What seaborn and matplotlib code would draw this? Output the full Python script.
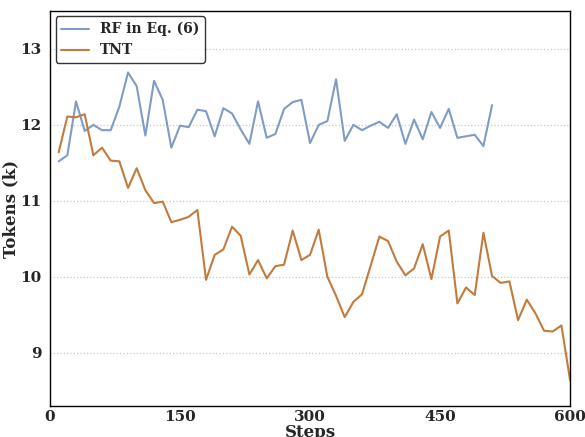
import matplotlib
matplotlib.use("Agg")
import matplotlib.pyplot as plt
import numpy as np
import pandas as pd
import seaborn as sns

rf_steps = list(range(10, 520, 10))
rf_tokens = [
    11.52, 11.60, 12.31, 11.92, 12.00, 11.93, 11.93, 12.24, 12.69, 12.51,
    11.86, 12.58, 12.33, 11.70, 11.99, 11.97, 12.20, 12.18, 11.85, 12.22,
    12.15, 11.94, 11.75, 12.31, 11.83, 11.88, 12.21, 12.30, 12.33, 11.76,
    12.00, 12.05, 12.60, 11.79, 12.00, 11.93, 11.99, 12.04, 11.96, 12.14,
    11.75, 12.07, 11.81, 12.17, 11.96, 12.21, 11.83, 11.85, 11.87, 11.72,
    12.26,
]
tnt_steps = list(range(10, 610, 10))
tnt_tokens = [
    11.64, 12.11, 12.10, 12.14, 11.60, 11.70, 11.53, 11.52, 11.17, 11.43,
    11.14, 10.97, 10.99, 10.72, 10.75, 10.79, 10.88, 9.96, 10.29, 10.36,
    10.66, 10.54, 10.03, 10.22, 9.98, 10.14, 10.16, 10.61, 10.22, 10.29,
    10.62, 10.00, 9.75, 9.47, 9.67, 9.77, 10.15, 10.53, 10.47, 10.20,
    10.02, 10.11, 10.43, 9.97, 10.53, 10.61, 9.65, 9.86, 9.76, 10.58,
    10.01, 9.92, 9.94, 9.43, 9.70, 9.52, 9.29, 9.28, 9.36, 8.64,
]
series_names = ["RF in Eq. (6)", "TNT"]
colors = ["#809bc6", "#c27b3d"]

df = pd.concat([
    pd.DataFrame({"Steps": rf_steps, "Tokens": rf_tokens, "method": series_names[0]}),
    pd.DataFrame({"Steps": tnt_steps, "Tokens": tnt_tokens, "method": series_names[1]}),
])

sns.set_theme(style="white")
plt.rcParams["font.family"] = ["DejaVu Serif"]
plt.rcParams["font.weight"] = "bold"

fig = plt.figure(figsize=(5.85, 4.37), dpi=100)
ax = fig.add_axes([0.0855, 0.071, 0.889, 0.904])
sns.lineplot(data=df, x="Steps", y="Tokens", hue="method",
             palette=dict(zip(series_names, colors)), lw=1.5, ax=ax)

ax.set_xlim(0, 600)
ax.set_ylim(8.3, 13.5)
ax.set_xticks([0, 150, 300, 450, 600])
ax.set_yticks([9, 10, 11, 12, 13])
ax.yaxis.grid(True, ls=":", color="#c8c8c8", lw=0.9)
ax.tick_params(axis="x", direction="in", length=4, labelsize=11, pad=3)
ax.tick_params(axis="y", direction="out", length=4, labelsize=11, pad=2)
for lab in ax.get_xticklabels() + ax.get_yticklabels():
    lab.set_fontweight("bold")
for sp in ax.spines.values():
    sp.set_color("black")
    sp.set_linewidth(1.0)
ax.set_xlabel("Steps", fontsize=12, fontweight="bold", labelpad=0)
ax.set_ylabel("Tokens (k)", fontsize=12, fontweight="bold", labelpad=1)
ax.legend(loc="upper left", frameon=True, edgecolor="black", fancybox=True,
          prop={"weight": "bold", "size": 10}, borderaxespad=0.4)

fig.savefig("out.png", dpi=100)
